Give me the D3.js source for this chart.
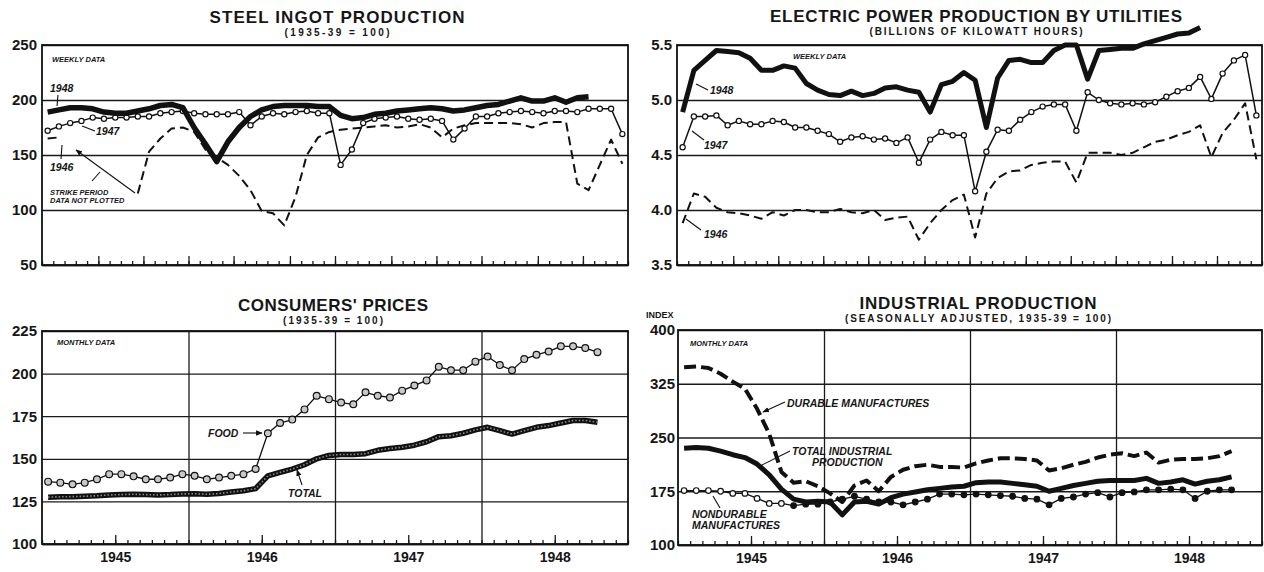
<!DOCTYPE html>
<meta charset="utf-8">

<head>
  <script src="https://d3js.org/d3.v7.min.js"></script>
</head>
<style>
  body { margin: 0; background: #fff; }
  text { font-family: "Liberation Sans", Arial, sans-serif; fill: #161616; }
  .title { font-weight: bold; font-size: 17px; }
  .sub { font-weight: bold; font-size: 10px; }
  .idx { font-weight: bold; font-size: 9px; }
  .grid .tick text { font-weight: bold; font-size: 15px; }
  .grid line { stroke: #1a1a1a; stroke-width: 1.3; }
  .ticks line, .ticks path { stroke: #1a1a1a; stroke-width: 1.3; }
  .years text { font-weight: bold; font-size: 14px; }
  .frame { fill: none; stroke: #111; stroke-width: 1.8; }
  .note { font-weight: bold; font-style: italic; font-size: 7.5px; }
  .lab { font-weight: bold; font-style: italic; font-size: 10.5px; }
  .lead { fill: none; stroke: #111; stroke-width: 1.1; }
</style>

<body>
  <script>
    // ---- weekly data, week 1..52 ----
    var steel1948 = [189, 191, 193, 193, 192, 189, 188, 188, 190, 192, 195, 196, 193, 175, 160, 144, 162, 175, 185, 191,
      194, 195, 195, 195, 194, 194, 186, 183, 184, 187, 188, 190, 191, 192, 193, 192, 190, 191, 193, 195,
      196, 199, 202, 199, 199, 202, 198, 202, 203];
    var steel1947 = [172, 176, 179, 181, 184, 183, 184, 184, 185, 185, 188, 189, 190, 188, 187, 187, 187, 189, 177, 185,
      188, 187, 189, 190, 188, 188, 141, 155, 179, 183, 184, 185, 183, 182, 183, 181, 164, 174, 185, 185,
      188, 189, 190, 189, 188, 190, 190, 189, 192, 192, 192, 169];
    var steel1946 = [165, 166, null, null, null, null, null, null, 115, 153, 165, 174, 175, 171, 155, 148, 141, 131, 118, 99,
      97, 86, 112, 150, 166, 171, 173, 174, 175, 176, 177, 175, 176, 178, 175, 166, 174, 177, 179, 179,
      179, 179, 178, 175, 179, 180, 180, 124, 118, 141, 164, 142];

    var power1948 = [4.89, 5.27, 5.36, 5.45, 5.44, 5.43, 5.38, 5.27, 5.27, 5.31, 5.29, 5.15, 5.09, 5.05, 5.04, 5.08, 5.04, 5.06, 5.11, 5.12,
      5.09, 5.07, 4.89, 5.14, 5.17, 5.25, 5.18, 4.75, 5.20, 5.36, 5.37, 5.34, 5.34, 5.45, 5.50, 5.50, 5.19, 5.45, 5.46, 5.47,
      5.47, 5.51, 5.54, 5.57, 5.60, 5.61, 5.66];
    var power1947 = [4.57, 4.85, 4.85, 4.86, 4.77, 4.81, 4.78, 4.78, 4.81, 4.80, 4.75, 4.75, 4.72, 4.69, 4.62, 4.66, 4.67, 4.64, 4.65, 4.61,
      4.66, 4.43, 4.64, 4.71, 4.68, 4.68, 4.17, 4.53, 4.73, 4.72, 4.82, 4.89, 4.94, 4.96, 4.96, 4.72, 5.07, 5.00, 4.97, 4.96,
      4.97, 4.96, 4.98, 5.03, 5.08, 5.11, 5.21, 5.01, 5.24, 5.36, 5.41, 4.86];
    var power1946 = [3.88, 4.15, 4.12, 4.02, 3.98, 3.97, 3.95, 3.92, 3.98, 3.95, 4.00, 4.00, 3.98, 3.98, 4.01, 3.98, 3.97, 4.00, 3.91, 3.93,
      3.94, 3.73, 3.88, 4.00, 4.09, 4.14, 3.75, 4.15, 4.29, 4.35, 4.36, 4.41, 4.43, 4.44, 4.44, 4.25, 4.52, 4.52, 4.52, 4.50,
      4.52, 4.57, 4.62, 4.64, 4.68, 4.71, 4.77, 4.48, 4.70, 4.82, 4.97, 4.46];

    // ---- monthly data, Jan 1945 .. Oct 1948 ----
    var cpiFood = [136.6, 136, 135, 136, 138, 141, 141, 139.7, 138, 138, 139, 141,
      140, 138, 139, 140, 141, 144, 165, 171, 173, 179, 187, 185,
      183, 182, 189, 187, 186, 190, 193, 196, 204, 202, 202, 207,
      210, 205, 202, 208.5, 211, 213, 216, 216, 215, 212.6];
    var cpiTotal = [127.5, 127.7, 127.8, 128, 128.3, 128.8, 129, 129.2, 129, 128.8, 129, 129.4,
      129.5, 129.2, 129.6, 130.5, 131.3, 132.5, 140, 142, 144, 146.5, 150, 152,
      152.5, 152.5, 153, 155, 156, 156.8, 158, 160, 163, 163.5, 165, 167,
      168.5, 166.5, 164.5, 166.5, 168.5, 169.5, 171, 172.5, 172.5, 171.5];
    var indTotal = [235, 236, 235, 231, 226, 222, 213, 198, 178, 164, 160, 161,
      160, 142, 160, 161, 157, 166, 171, 174, 177, 179, 181, 182,
      187, 188, 188, 186, 184, 182, 175, 179, 183, 186, 189, 190,
      190, 190, 193, 186, 188, 191, 185, 189, 191, 195];
    var indDurable = [348, 349, 347, 339, 328, 318, 290, 255, 202, 187, 189, 182,
      172, 160, 183, 190, 175, 195, 205, 210, 212, 209, 209, 208,
      214, 218, 221, 221, 220, 218, 204, 207, 212, 216, 222, 226,
      228, 224, 229, 215, 219, 220, 220, 221, 224, 231];
    var indNondurable = [176, 176, 176, 175, 172, 172, 165, 158, 158, 155, 157, 157,
      160, 164, 168, 164, 160, 160, 156, 160, 164, 171, 171, 170,
      171, 170, 169, 168, 165, 164, 156, 165, 167, 171, 173, 167,
      173, 174, 177, 177, 178, 177, 165, 175, 177, 177];

    var steelTicks = [50, 100, 150, 200, 250];
    var powerTicks = [3.5, 4.0, 4.5, 5.0, 5.5];
    var cpiTicks = [100, 125, 150, 175, 200, 225];
    var indTicks = [100, 175, 250, 325, 400];
    var years = ["1945", "1946", "1947", "1948"];
    var monthEndWeeks = [5, 9, 13, 17, 22, 26, 31, 35, 39, 44, 48]; // last week of each month

    var svg = d3.select("body").append("svg").attr("width", 1264).attr("height", 572);

    var defs = svg.append("defs");
    defs.append("marker").attr("id", "arrow")
      .attr("viewBox", "0 0 10 10").attr("refX", 9).attr("refY", 5)
      .attr("markerWidth", 6).attr("markerHeight", 6).attr("orient", "auto")
      .append("path").attr("d", "M0,1L10,5L0,9z").attr("fill", "#111");

    var weekMinor = d3.range(0, 53).map(function (w) { return w + 0.5; });
    var weekMajor = monthEndWeeks.map(function (w) { return w + 0.5; });
    var monthMinor = d3.range(-1, 48).map(function (m) { return m + 0.5; });
    var midYears = years.map(function (y, i) { return i * 12 + 5.5; });
    var yearLines = [11.5, 23.5, 35.5];

    function panel(p) {
      var x = d3.scaleLinear().domain(p.xDomain).range([p.left, p.right]);
      var y = d3.scaleLinear().domain(d3.extent(p.yTicks)).range([p.bottom, p.top]);
      var g = svg.append("g");

      g.append("g").attr("class", "grid")
        .attr("transform", "translate(" + p.left + ",0)")
        .call(d3.axisLeft(y).tickValues(p.yTicks).tickSize(-(p.right - p.left)).tickPadding(p.pad).tickFormat(p.fmt))
        .call(function (a) { a.select(".domain").remove(); });

      if (p.vlines) {
        g.append("g").attr("class", "grid")
          .attr("transform", "translate(0," + p.bottom + ")")
          .call(d3.axisTop(x).tickValues(p.vlines).tickSize(p.bottom - p.top).tickFormat(""))
          .call(function (a) { a.select(".domain").remove(); });
      }

      g.append("g").attr("class", "ticks")
        .attr("transform", "translate(0," + p.bottom + ")")
        .call(d3.axisTop(x).tickValues(p.minor).tickSize(4).tickSizeOuter(0).tickFormat(""));
      g.append("g").attr("class", "ticks")
        .attr("transform", "translate(0," + p.bottom + ")")
        .call(d3.axisTop(x).tickValues(p.major).tickSize(9).tickSizeOuter(0).tickFormat(""))
        .call(function (a) { a.select(".domain").remove(); });

      if (p.yearLabels) {
        g.append("g").attr("class", "years")
          .attr("transform", "translate(0," + p.bottom + ")")
          .call(d3.axisBottom(x).tickValues(midYears).tickSize(0).tickPadding(8)
            .tickFormat(function (d, i) { return years[i]; }))
          .call(function (a) { a.select(".domain").remove(); });
      }

      g.append("rect").attr("class", "frame")
        .attr("x", p.left).attr("y", p.top)
        .attr("width", p.right - p.left).attr("height", p.bottom - p.top);

      g.append("text").attr("class", "title").attr("text-anchor", "middle")
        .attr("x", p.titleX).attr("y", p.titleY)
        .attr("textLength", p.titleW).attr("lengthAdjust", "spacing").text(p.title);
      g.append("text").attr("class", "sub").attr("text-anchor", "middle")
        .attr("x", p.titleX).attr("y", p.titleY + 13)
        .attr("textLength", p.subW).attr("lengthAdjust", "spacing").text(p.subtitle);

      return { g: g, x: x, y: y };
    }

    function series(P, vals, first, width, dash) {
      var line = d3.line()
        .defined(function (d) { return d != null; })
        .x(function (d, i) { return P.x(i + first); })
        .y(function (d) { return P.y(d); });
      return P.g.append("path").datum(vals)
        .attr("d", line).attr("fill", "none")
        .attr("stroke", "#111").attr("stroke-width", width)
        .attr("stroke-linejoin", "round")
        .attr("stroke-dasharray", dash || null);
    }

    function dots(P, vals, first, r, fill) {
      var pts = vals.map(function (v, i) { return [i + first, v]; })
        .filter(function (d) { return d[1] != null; });
      P.g.append("g").selectAll("circle").data(pts).join("circle")
        .attr("cx", function (d) { return P.x(d[0]); })
        .attr("cy", function (d) { return P.y(d[1]); })
        .attr("r", r)
        .attr("fill", typeof fill === "function" ? function (d) { return fill(d[0]); } : fill)
        .attr("stroke", "#111").attr("stroke-width", 1.2);
    }

    function label(P, cls, txt, px, py) {
      P.g.append("text").attr("class", cls).attr("x", px).attr("y", py).text(txt);
    }

    function lead(P, pts, arrow) {
      P.g.append("path").attr("class", "lead")
        .attr("d", d3.line()(pts))
        .attr("marker-end", arrow ? "url(#arrow)" : null);
    }

    // ---- steel ingot ----
    var S = panel({
      left: 42, right: 628, top: 45, bottom: 265, xDomain: [0.5, 52.5],
      yTicks: steelTicks, pad: 5, fmt: d3.format("d"),
      minor: weekMinor, major: weekMajor,
      title: "STEEL INGOT PRODUCTION", subtitle: "(1935-39 = 100)",
      titleX: 337, titleY: 23, titleW: 255, subW: 105
    });
    series(S, steel1946, 1, 2, "9,5");
    series(S, steel1947, 1, 1.5);
    dots(S, steel1947, 1, 2.6, "#fff");
    series(S, steel1948, 1, 5.5);
    label(S, "note", "WEEKLY  DATA", 52, 62);
    label(S, "lab", "1948", 50, 92);
    lead(S, [[58, 95], [57, 106]]);
    label(S, "lab", "1947", 96, 135);
    lead(S, [[82, 126], [95, 131]]);
    label(S, "lab", "1946", 50, 171);
    lead(S, [[61, 159], [62, 145]]);
    lead(S, [[135, 193], [76, 150]], true);
    lead(S, [[92, 181], [100, 172]]);
    label(S, "note", "STRIKE PERIOD", 50, 195);
    label(S, "note", "DATA NOT PLOTTED", 50, 203);

    // ---- electric power ----
    var E = panel({
      left: 677, right: 1262, top: 45, bottom: 265, xDomain: [0.5, 52.5],
      yTicks: powerTicks, pad: 5, fmt: d3.format(".1f"),
      minor: weekMinor, major: weekMajor,
      title: "ELECTRIC POWER PRODUCTION BY UTILITIES", subtitle: "(BILLIONS OF KILOWATT HOURS)",
      titleX: 976, titleY: 22, titleW: 412, subW: 213
    });
    series(E, power1946, 1, 2, "9,5");
    series(E, power1947, 1, 1.5);
    dots(E, power1947, 1, 2.6, "#fff");
    series(E, power1948, 1, 5);
    label(E, "note", "WEEKLY  DATA", 793, 59);
    label(E, "lab", "1948", 710, 94);
    lead(E, [[696, 84], [708, 90]]);
    label(E, "lab", "1947", 704, 149);
    lead(E, [[692, 131], [704, 140]]);
    label(E, "lab", "1946", 704, 238);
    lead(E, [[686, 219], [701, 230]]);

    // ---- consumers' prices ----
    var C = panel({
      left: 42, right: 628, top: 331, bottom: 544, xDomain: [-0.5, 47.5],
      yTicks: cpiTicks, pad: 5, fmt: d3.format("d"),
      minor: monthMinor, major: midYears, vlines: yearLines, yearLabels: true,
      title: "CONSUMERS' PRICES", subtitle: "(1935-39 = 100)",
      titleX: 333, titleY: 311, titleW: 190, subW: 100
    });
    series(C, cpiTotal, 0, 5.5);
    series(C, cpiTotal, 0, 1.6, "1.5,2").attr("stroke", "#8a8a8a");
    series(C, cpiFood, 0, 1.3);
    dots(C, cpiFood, 0, 3.4, "#c8c8c8");
    label(C, "note", "MONTHLY  DATA", 57, 345);
    label(C, "lab", "FOOD", 208, 437);
    lead(C, [[243, 433], [262, 433]], true);
    label(C, "lab", "TOTAL", 288, 497);
    lead(C, [[302, 485], [297, 470]], true);

    // ---- industrial production ----
    var I = panel({
      left: 678, right: 1262, top: 330, bottom: 545, xDomain: [-0.5, 47.5],
      yTicks: indTicks, pad: 3, fmt: d3.format("d"),
      minor: monthMinor, major: midYears, vlines: yearLines, yearLabels: true,
      title: "INDUSTRIAL PRODUCTION", subtitle: "(SEASONALLY ADJUSTED, 1935-39 = 100)",
      titleX: 978, titleY: 309, titleW: 237, subW: 266
    });
    series(I, indDurable, 0, 4, "12,5");
    series(I, indNondurable, 0, 1.3);
    dots(I, indNondurable, 0, 2.8, function (m) { return m < 9 ? "#fff" : "#111"; });
    series(I, indTotal, 0, 5);
    label(I, "idx", "INDEX", 646, 318);
    label(I, "note", "MONTHLY  DATA", 690, 346);
    label(I, "lab", "DURABLE  MANUFACTURES", 787, 407);
    lead(I, [[785, 402], [763, 412]], true);
    label(I, "lab", "TOTAL  INDUSTRIAL", 792, 455);
    label(I, "lab", "PRODUCTION", 812, 466);
    lead(I, [[790, 451], [758, 467]]);
    label(I, "lab", "NONDURABLE", 692, 518);
    label(I, "lab", "MANUFACTURES", 692, 529);
    lead(I, [[720, 508], [713, 496]]);
  </script>
</body>
